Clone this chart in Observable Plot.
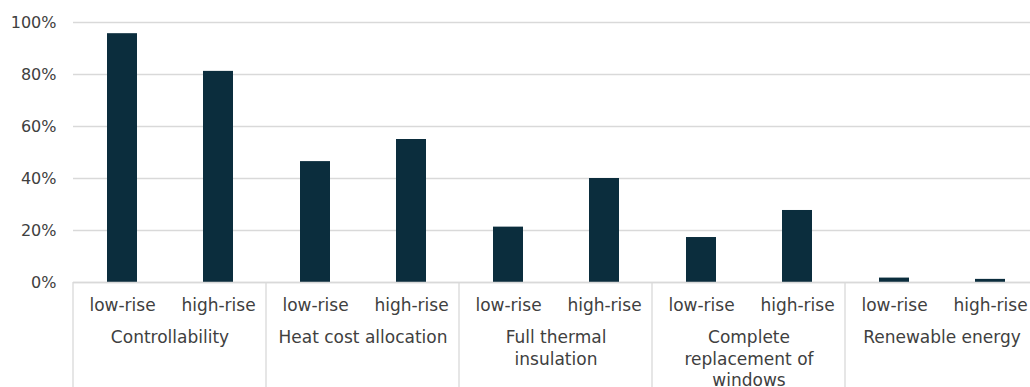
<!DOCTYPE html>
<html>
<head>
<meta charset="utf-8">
<script src="https://cdn.jsdelivr.net/npm/d3@7"></script>
<script src="https://cdn.jsdelivr.net/npm/@observablehq/plot@0.6"></script>
<style>
  html, body { margin: 0; padding: 0; background: #fff; overflow: hidden; }
</style>
</head>
<body>
<div id="chart"></div>
<script>
// Measures grouped by category, share of buildings (%) per building type
const groups = [
  "Controllability",
  "Heat cost allocation",
  "Full thermal insulation",
  "Complete replacement of windows",
  "Renewable energy"
];
const groupLabels = [
  "Controllability",
  "Heat cost allocation",
  "Full thermal\ninsulation",
  "Complete\nreplacement of\nwindows",
  "Renewable energy"
];
const buildingTypes = ["low-rise", "high-rise"];
const lowRise = [95.7, 46.5, 21.3, 17.3, 1.7];
const highRise = [81.2, 55.0, 40.0, 27.7, 1.2];
const yTicks = [0, 20, 40, 60, 80, 100];

const rows = groups.flatMap((g, i) => [
  {group: g, type: buildingTypes[0], value: lowRise[i]},
  {group: g, type: buildingTypes[1], value: highRise[i]}
]);
const labelOf = new Map(groups.map((g, i) => [g, groupLabels[i]]));

const gridColor = "#d9d9d9";
const textColor = "#404040";

// Vertical separator at the left edge of each category block, below the baseline
function separators(index, scales, values, dimensions) {
  const [x0] = scales.x.range();
  const yTop = dimensions.height - dimensions.marginBottom;
  const line = document.createElementNS("http://www.w3.org/2000/svg", "line");
  line.setAttribute("x1", x0);
  line.setAttribute("x2", x0);
  line.setAttribute("y1", yTop);
  line.setAttribute("y2", dimensions.height);
  line.setAttribute("stroke", gridColor);
  line.setAttribute("stroke-width", 1.3);
  return line;
}

const chart = Plot.plot({
  width: 1030,
  height: 387,
  marginLeft: 72,
  marginRight: -8,
  marginTop: 22,
  marginBottom: 105,
  style: {fontFamily: "'DejaVu Sans', sans-serif", fontSize: "17px", color: textColor, background: "#fff"},
  fx: {domain: groups, padding: 0, axis: null, label: null},
  x: {domain: buildingTypes, paddingInner: 0.69, paddingOuter: 0.345, axis: null, label: null},
  y: {domain: [0, 100], axis: null, label: null},
  marks: [
    Plot.gridY(yTicks, {stroke: gridColor, strokeOpacity: 1, strokeWidth: 1.3}),
    Plot.barY(rows, {fx: "group", x: "type", y: "value", fill: "#0b2d3d"}),
    Plot.ruleY([0], {stroke: gridColor, strokeWidth: 1.3}),
    Plot.axisY(yTicks, {
      tickSize: 0, tickPadding: 17, fontSize: 16, fill: textColor, label: null,
      tickFormat: d => d + "%"
    }),
    Plot.axisX({tickSize: 0, tickPadding: 16, fontSize: 17, fill: textColor, label: null}),
    Plot.axisFx({
      anchor: "bottom", tickSize: 0, tickPadding: 46, fontSize: 17, fill: textColor,
      lineHeight: 1.24, label: null, tickFormat: g => labelOf.get(g)
    }),
    separators
  ]
});

document.getElementById("chart").appendChild(chart);
</script>
</body>
</html>
